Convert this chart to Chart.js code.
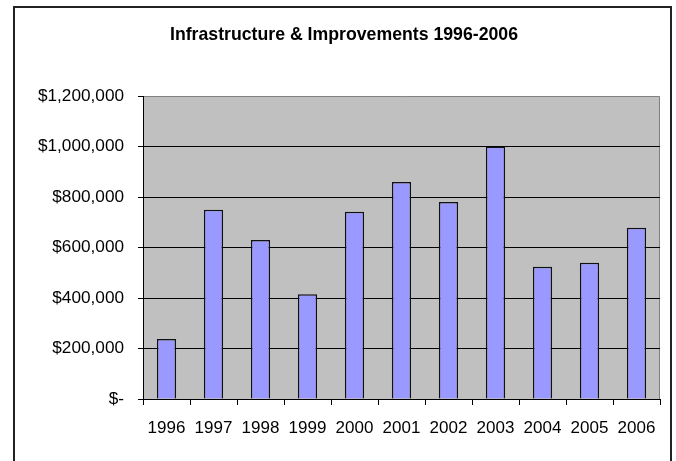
<!DOCTYPE html>
<html>
<head>
<meta charset="utf-8">
<script src="https://cdn.jsdelivr.net/npm/chart.js@4"></script>
<style>
    html, body { margin: 0; padding: 0; background: #fff; }
    canvas { display: block; }
</style>
</head>
<body>
<canvas id="infraChart" width="676" height="461"></canvas>
<script>
// --- Data ---
const years = ['1996', '1997', '1998', '1999', '2000', '2001', '2002', '2003', '2004', '2005', '2006'];
const spending = [238000, 750000, 630000, 415000, 742000, 860000, 780000, 1000000, 524000, 540000, 678000];
const yTickLabels = ['$-', '$200,000', '$400,000', '$600,000', '$800,000', '$1,000,000', '$1,200,000'];

const FONT = '"Liberation Sans", Arial, sans-serif';

// gray plot area + outer chart frame (Excel look)
const frame = {
    id: 'frame',
    beforeDraw(chart) {
        const c = chart.ctx, a = chart.chartArea;
        c.save();
        c.fillStyle = '#fff';
        c.fillRect(0, 0, chart.width, chart.height);
        c.strokeStyle = '#222';
        c.lineWidth = 2;
        c.strokeRect(14, 7, 657, 470);
        c.fillStyle = '#c0c0c0';
        c.fillRect(a.left, a.top, a.right - a.left, a.bottom - a.top);
        c.strokeStyle = '#808080';
        c.lineWidth = 1;
        c.beginPath();
        c.moveTo(a.left, a.top + 0.5);
        c.lineTo(a.right - 0.5, a.top + 0.5);
        c.lineTo(a.right - 0.5, a.bottom);
        c.stroke();
        c.restore();
    }
};

new Chart(document.getElementById('infraChart'), {
    type: 'bar',
    data: {
        labels: years,
        datasets: [{
            data: spending,
            backgroundColor: '#9999ff',
            borderColor: '#111',
            borderWidth: 1.5,
            barPercentage: 0.41,
            categoryPercentage: 1
        }]
    },
    options: {
        responsive: false,
        animation: false,
        layout: { padding: { left: 28, right: 16, top: 0, bottom: 0 } },
        plugins: {
            legend: { display: false },
            tooltip: { enabled: false },
            title: {
                display: true,
                text: 'Infrastructure & Improvements 1996-2006',
                color: '#000',
                font: { family: FONT, size: 17.7, weight: 'bold', lineHeight: 1.2 },
                padding: { top: 24, bottom: 50.8 }
            }
        },
        scales: {
            x: {
                grid: {
                    offset: true,
                    drawOnChartArea: false,
                    drawTicks: true,
                    tickLength: 6,
                    color: '#000'
                },
                border: { color: '#000', width: 1 },
                ticks: {
                    color: '#000',
                    padding: 13,
                    maxRotation: 0,
                    font: { family: FONT, size: 17 }
                },
                afterFit: (scale) => { scale.height = 62; }
            },
            y: {
                min: 0,
                max: 1200000,
                grid: {
                    color: (ctx) => ctx.index === yTickLabels.length - 1 ? 'rgba(0,0,0,0)' : '#000',
                    tickColor: '#000',
                    tickLength: 5
                },
                border: { color: '#000', width: 1 },
                ticks: {
                    stepSize: 200000,
                    color: '#000',
                    padding: 14,
                    font: { family: FONT, size: 17.2 },
                    callback: (value, index) => yTickLabels[index]
                },
                afterFit: (scale) => { scale.width = 115; }
            }
        }
    },
    plugins: [frame]
});
</script>
</body>
</html>
